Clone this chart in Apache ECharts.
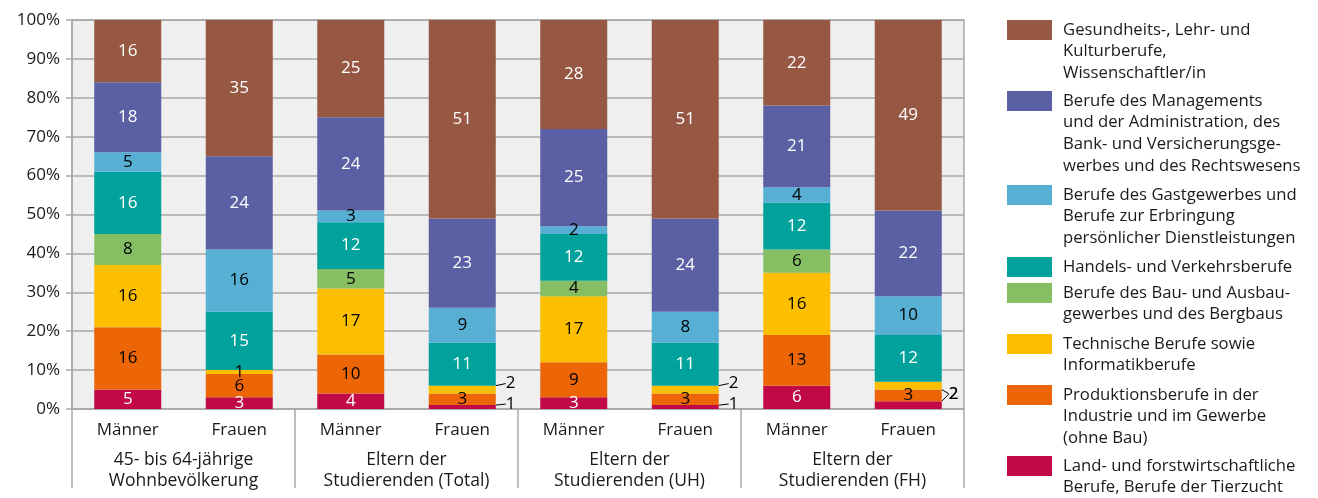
<!DOCTYPE html>
<html>
<head>
<meta charset="utf-8">
<script src="https://cdn.jsdelivr.net/npm/echarts@6/dist/echarts.min.js"></script>
<style>
  html, body { margin: 0; padding: 0; background: #fff; }
  #chart { width: 1318px; height: 498px; }
</style>
</head>
<body>
<div id="chart"></div>
<script>
// Kategorien (x-Achse)
var categories = ['Männer', 'Frauen', 'Männer', 'Frauen', 'Männer', 'Frauen', 'Männer', 'Frauen'];
var groups = [
    '45- bis 64-jährige\nWohnbevölkerung',
    'Eltern der\nStudierenden (Total)',
    'Eltern der\nStudierenden (UH)',
    'Eltern der\nStudierenden (FH)'
];
var yTicks = [0, 10, 20, 30, 40, 50, 60, 70, 80, 90, 100];

// Serien, von unten nach oben gestapelt (Werte in %)
var land       = [5, 3, 4, 1, 3, 1, 6, 2];
var produktion = [16, 6, 10, 3, 9, 3, 13, 3];
var technik    = [16, 1, 17, 2, 17, 2, 16, 2];
var bau        = [8, 0, 5, 0, 4, 0, 6, 0];
var handel     = [16, 15, 12, 11, 12, 11, 12, 12];
var gast       = [5, 16, 3, 9, 2, 8, 4, 10];
var management = [18, 24, 24, 23, 25, 24, 21, 22];
var gesundheit = [16, 35, 25, 51, 28, 51, 22, 49];

var seriesNames = [
    'Land- und forstwirtschaftliche\nBerufe, Berufe der Tierzucht',
    'Produktionsberufe in der\nIndustrie und im Gewerbe\n(ohne Bau)',
    'Technische Berufe sowie\nInformatikberufe',
    'Berufe des Bau- und Ausbau-\ngewerbes und des Bergbaus',
    'Handels- und Verkehrsberufe',
    'Berufe des Gastgewerbes und\nBerufe zur Erbringung\npersönlicher Dienstleistungen',
    'Berufe des Managements\nund der Administration, des\nBank- und Versicherungsge-\nwerbes und des Rechtswesens',
    'Gesundheits-, Lehr- und\nKulturberufe,\nWissenschaftler/in'
];
var seriesData = [land, produktion, technik, bau, handel, gast, management, gesundheit];
var colors = ['#c10a45', '#ec6608', '#fbbf00', '#86be63', '#00a29b', '#57afd4', '#5b5fa3', '#975843'];
var labelColors = ['#fff', '#000', '#000', '#000', '#fff', '#000', '#fff', '#fff'];

// kleine Werte mit Führungslinie rechts neben dem Balken
var outside = [
    { cat: 3, s: 2, dx: 10, dy: -6 }, { cat: 3, s: 0, dx: 10, dy: -3 },
    { cat: 5, s: 2, dx: 10, dy: -6 }, { cat: 5, s: 0, dx: 10, dy: -3 },
    { cat: 7, s: 2, dx: 7, dy: 8 },   { cat: 7, s: 0, dx: 7, dy: -11 }
];
function findOutside(s, cat) {
    for (var i = 0; i < outside.length; i++) {
        if (outside[i].s === s && outside[i].cat === cat) return outside[i];
    }
    return null;
}

var FONT = 'Open Sans';
var GRAY = '#a9a9a9';
var LH = 21.7;

var series = seriesData.map(function (values, s) {
    return {
        name: seriesNames[s],
        type: 'bar',
        stack: 'total',
        barWidth: 67,
        xAxisIndex: 0,
        itemStyle: { color: colors[s] },
        label: {
            show: true,
            position: 'inside',
            color: labelColors[s],
            fontFamily: FONT,
            fontSize: 17,
            formatter: function (p) { return p.value === 0 ? '' : String(p.value); }
        },
        labelLine: { lineStyle: { color: '#000', width: 1 } },
        labelLayout: function (p) {
            var o = findOutside(p.seriesIndex, p.dataIndex);
            if (!o) return {};
            return {
                x: p.rect.x + p.rect.width + o.dx,
                y: p.rect.y + p.rect.height / 2 + o.dy,
                align: 'left',
                verticalAlign: 'middle'
            };
        },
        data: values.map(function (v, cat) {
            var o = findOutside(s, cat);
            if (!o) return v;
            return { value: v, label: { color: '#000' }, labelLine: { show: true } };
        })
    };
});

// Legende: ein Eintrag pro Komponente; Leerzeilen oben, damit die
// erste Textzeile auf Höhe des Farbfelds steht
var legendOrder = [7, 6, 5, 4, 3, 2, 1, 0];
var legendIconTops = [20, 91, 185, 257, 283, 334, 385, 456];
var legends = legendOrder.map(function (s, i) {
    var n = seriesNames[s].split('\n').length;
    return {
        orient: 'vertical',
        left: 1007,
        top: legendIconTops[i] + 10 - (2 * n - 1) * LH / 2,
        padding: 0,
        itemWidth: 45,
        itemHeight: 20,
        icon: 'rect',
        selectedMode: false,
        data: [seriesNames[s]],
        formatter: function (name) {
            var lines = name.split('\n');
            var out = [];
            for (var k = 1; k < lines.length; k++) out.push('{t| }');
            lines.forEach(function (l) { out.push('{t|' + l + '}'); });
            return out.join('\n');
        },
        textStyle: {
            fontFamily: FONT, fontSize: 16.7, color: '#1a1a1a', lineHeight: LH,
            rich: {
                t: { fontFamily: FONT, fontSize: 16.7, color: '#1a1a1a', lineHeight: LH, padding: [0, 0, 0, 6] }
            }
        }
    };
});

var chart = echarts.init(document.getElementById('chart'));
chart.setOption({
    animation: false,
    textStyle: { fontFamily: FONT },
    grid: {
        left: 72, right: 354, top: 20, bottom: 89,
        show: true, backgroundColor: '#efefef',
        borderColor: GRAY, borderWidth: 1.5
    },
    legend: legends,
    xAxis: [{
        type: 'category',
        data: categories,
        axisLine: { show: true, lineStyle: { color: GRAY, width: 1.5 } },
        axisTick: { show: false },
        axisLabel: { color: '#1a1a1a', fontFamily: FONT, fontSize: 17, margin: 13, interval: 0 }
    }, {
        type: 'category',
        position: 'bottom',
        data: groups,
        axisLine: { show: false },
        axisTick: { show: true, length: 79, lineStyle: { color: GRAY, width: 1.5 } },
        axisLabel: { color: '#1a1a1a', fontFamily: FONT, fontSize: 17.5, lineHeight: 21, margin: 41, interval: 0 }
    }],
    yAxis: {
        type: 'value',
        min: yTicks[0],
        max: yTicks[yTicks.length - 1],
        interval: 10,
        axisLine: { show: true, lineStyle: { color: GRAY, width: 1.5 } },
        axisTick: { show: true, length: 6, lineStyle: { color: GRAY, width: 1.5 } },
        splitLine: { show: true, lineStyle: { color: GRAY, width: 1.5 } },
        axisLabel: { color: '#1a1a1a', fontFamily: FONT, fontSize: 17, margin: 12, formatter: '{value}%' }
    },
    series: series
});
</script>
</body>
</html>
